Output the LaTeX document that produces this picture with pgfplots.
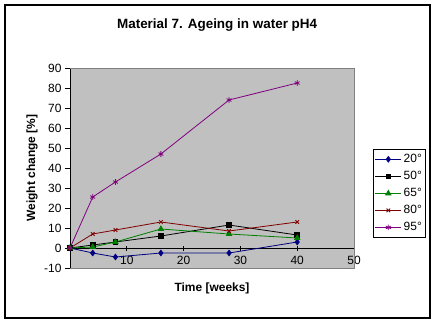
\documentclass[border=0pt]{standalone}
\usepackage{pgfplots}
\pgfplotsset{compat=1.18}
\usepackage{fontspec}
\setmainfont{Liberation Sans}
\definecolor{plotgray}{RGB}{192,192,192}
\definecolor{framegray}{RGB}{128,128,128}
\definecolor{navyc}{RGB}{0,0,128}
\definecolor{greenc}{RGB}{0,128,0}
\definecolor{darkredc}{RGB}{128,0,0}
\definecolor{purplec}{RGB}{128,0,128}
\begin{document}
\begin{tikzpicture}[x=1bp,y=1bp]
\path[use as bounding box] (0,0) rectangle (437,325);
\fill[white] (0,0) rectangle (437,325);
\draw[black, line width=1.5bp] (5,7) rectangle (430,320);
\begin{axis}[
  at={(70bp,57bp)}, anchor=south west,
  scale only axis, width=284bp, height=200bp,
  xmin=0, xmax=50, ymin=-10, ymax=90,
  xtick={0,10,...,50}, ytick={-10,0,...,90},
  axis x line*=middle, axis y line*=left,
  axis line style={black, line width=0.8bp, -},
  axis background/.style={fill=plotgray},
  tick style={black, line width=0.8bp},
  major tick length=5bp,
  xtick align=center, ytick align=outside,
  x tick label style={font=\fontsize{12}{14}\selectfont, yshift=-2bp},
  y tick label style={font=\fontsize{12}{14}\selectfont, xshift=0bp},
  /pgf/number format/assume math mode=true,
  title={\bfseries Material 7. Ageing in water pH4},
  title style={font=\fontsize{13.5}{16}\selectfont, at={(axis description cs:0.518,1.185)}, anchor=center},
  xlabel={\bfseries Time [weeks]},
  xlabel style={font=\fontsize{12}{14}\selectfont, at={(axis description cs:0.5,-0.1)}, anchor=center},
  ylabel={\bfseries Weight change [\%]},
  ylabel style={font=\fontsize{12}{14}\selectfont, at={(axis description cs:-0.134,0.5)}, anchor=center},
  clip=false,
  legend style={at={(axis description cs:1.067,0.595)}, anchor=north west,
    draw=black, line width=0.8bp, fill=white, font=\fontsize{12}{14}\selectfont,
    row sep=3.2bp, inner xsep=1.5bp, inner ysep=3bp, cells={anchor=west}},
  legend image code/.code={
    \draw[mark repeat=2,mark phase=2] plot coordinates {(0bp,0bp) (13bp,0bp) (26bp,0bp)};
  },
  every axis plot/.append style={line width=0.8bp},
]
\addplot[navyc, mark=diamond*, mark size=2.8bp, mark options={solid, fill=navyc}] coordinates {(0,0) (4,-2.5) (8,-4.5) (16,-2.5) (28,-2.5) (40,3)};
\addlegendentry{20°}
\addplot[black, mark=square*, mark size=2.4bp, mark options={solid, fill=black}] coordinates {(0,0) (4,1.5) (8,3) (16,6) (28,11.5) (40,6.5)};
\addlegendentry{50°}
\addplot[greenc, mark=triangle*, mark size=3bp, mark options={solid, fill=greenc}] coordinates {(0,0) (4,0.5) (8,3) (16,9.5) (28,7) (40,5)};
\addlegendentry{65°}
\addplot[darkredc, mark=x, mark size=2.6bp, mark options={solid}] coordinates {(0,0) (4,7) (8,9) (16,13) (28,8.5) (40,13)};
\addlegendentry{80°}
\addplot[purplec, mark=asterisk, mark size=2.8bp, mark options={solid}] coordinates {(0,0) (4,25.5) (8,33) (16,47) (28,74) (40,82.5)};
\addlegendentry{95°}
\draw[framegray, line width=0.8bp] (rel axis cs:0,0) -- (rel axis cs:1,0) -- (rel axis cs:1,1) -- (rel axis cs:0,1);
\end{axis}
\end{tikzpicture}
\end{document}
